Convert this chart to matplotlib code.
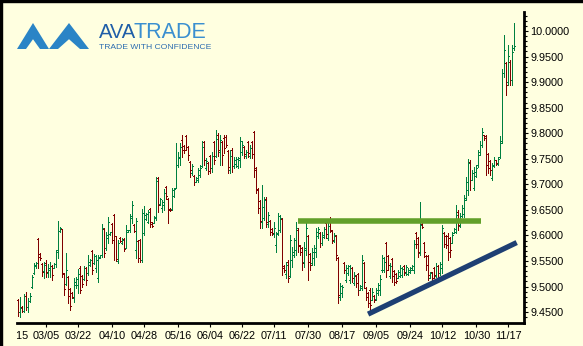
import numpy as np
import matplotlib
matplotlib.use("Agg")
import matplotlib.pyplot as plt
from matplotlib.collections import LineCollection
from matplotlib.patches import Polygon, Rectangle
from matplotlib.transforms import Bbox, TransformedBbox

# daily OHLC bars (oldest first)
opens = [
    9.474, 9.450, 9.460, 9.452, 9.481, 9.460, 9.472, 9.499, 9.526, 9.540,
    9.593, 9.564, 9.544, 9.530, 9.546, 9.526, 9.532, 9.540, 9.536, 9.544,
    9.572, 9.609, 9.613, 9.526, 9.505, 9.518, 9.495, 9.487, 9.477, 9.503,
    9.503, 9.536, 9.520, 9.515, 9.536, 9.526, 9.542, 9.570, 9.546, 9.536,
    9.516, 9.556, 9.562, 9.613, 9.576, 9.595, 9.603, 9.623, 9.640, 9.599,
    9.550, 9.595, 9.585, 9.593, 9.576, 9.607, 9.611, 9.634, 9.621, 9.572,
    9.589, 9.591, 9.552, 9.605, 9.633, 9.627, 9.652, 9.627, 9.625, 9.634,
    9.712, 9.662, 9.654, 9.660, 9.695, 9.672, 9.652, 9.652, 9.677, 9.693,
    9.738, 9.752, 9.787, 9.775, 9.795, 9.773, 9.744, 9.722, 9.716, 9.705,
    9.709, 9.718, 9.736, 9.783, 9.732, 9.742, 9.755, 9.732, 9.783, 9.755,
    9.797, 9.763, 9.783, 9.791, 9.793, 9.765, 9.728, 9.767, 9.736, 9.740,
    9.736, 9.748, 9.763, 9.773, 9.755, 9.783, 9.755, 9.783, 9.802, 9.732,
    9.691, 9.668, 9.627, 9.634, 9.672, 9.623, 9.629, 9.613, 9.603, 9.581,
    9.603, 9.611, 9.633, 9.540, 9.524, 9.548, 9.520, 9.552, 9.562, 9.572,
    9.611, 9.579, 9.575, 9.548, 9.572, 9.599, 9.564, 9.546, 9.556, 9.568,
    9.599, 9.605, 9.585, 9.597, 9.625, 9.595, 9.633, 9.609, 9.589, 9.599,
    9.556, 9.479, 9.487, 9.546, 9.513, 9.526, 9.513, 9.536, 9.507, 9.520,
    9.524, 9.493, 9.497, 9.546, 9.497, 9.487, 9.493, 9.474, 9.481, 9.476,
    9.487, 9.493, 9.532, 9.532, 9.585, 9.560, 9.520, 9.554, 9.530, 9.524,
    9.516, 9.520, 9.522, 9.540, 9.526, 9.524, 9.528, 9.532, 9.532, 9.605,
    9.595, 9.566, 9.623, 9.585, 9.560, 9.560, 9.516, 9.528, 9.536, 9.520,
    9.540, 9.526, 9.536, 9.605, 9.599, 9.599, 9.595, 9.585, 9.605, 9.607,
    9.646, 9.619, 9.638, 9.642, 9.674, 9.689, 9.744, 9.709, 9.693, 9.716,
    9.738, 9.763, 9.777, 9.797, 9.795, 9.759, 9.746, 9.712, 9.738, 9.748,
    9.740, 9.754, 9.785, 9.918, 9.937, 9.900, 9.939, 9.904, 9.967,
]
highs = [
    9.476, 9.479, 9.462, 9.485, 9.489, 9.477, 9.487, 9.522, 9.546, 9.548,
    9.595, 9.566, 9.546, 9.548, 9.552, 9.544, 9.548, 9.542, 9.546, 9.572,
    9.629, 9.617, 9.613, 9.526, 9.566, 9.520, 9.497, 9.489, 9.516, 9.518,
    9.534, 9.540, 9.522, 9.540, 9.538, 9.562, 9.554, 9.572, 9.564, 9.562,
    9.562, 9.562, 9.623, 9.615, 9.607, 9.636, 9.607, 9.625, 9.642, 9.599,
    9.591, 9.597, 9.595, 9.595, 9.621, 9.611, 9.642, 9.668, 9.623, 9.634,
    9.591, 9.593, 9.652, 9.658, 9.644, 9.650, 9.654, 9.627, 9.638, 9.714,
    9.714, 9.674, 9.670, 9.691, 9.697, 9.674, 9.654, 9.693, 9.693, 9.781,
    9.763, 9.781, 9.797, 9.777, 9.797, 9.775, 9.746, 9.740, 9.718, 9.714,
    9.732, 9.738, 9.785, 9.785, 9.752, 9.744, 9.757, 9.763, 9.785, 9.806,
    9.800, 9.797, 9.785, 9.797, 9.797, 9.767, 9.767, 9.771, 9.754, 9.754,
    9.754, 9.793, 9.785, 9.775, 9.767, 9.785, 9.777, 9.785, 9.804, 9.734,
    9.693, 9.670, 9.699, 9.675, 9.675, 9.646, 9.631, 9.615, 9.627, 9.607,
    9.644, 9.640, 9.634, 9.542, 9.548, 9.552, 9.601, 9.577, 9.595, 9.627,
    9.615, 9.581, 9.577, 9.587, 9.625, 9.601, 9.566, 9.575, 9.581, 9.615,
    9.617, 9.607, 9.607, 9.617, 9.627, 9.625, 9.636, 9.611, 9.605, 9.601,
    9.558, 9.507, 9.503, 9.548, 9.542, 9.542, 9.542, 9.538, 9.528, 9.522,
    9.526, 9.503, 9.562, 9.548, 9.499, 9.489, 9.497, 9.497, 9.483, 9.497,
    9.507, 9.522, 9.562, 9.558, 9.587, 9.562, 9.546, 9.556, 9.532, 9.526,
    9.532, 9.542, 9.538, 9.542, 9.542, 9.536, 9.538, 9.542, 9.591, 9.607,
    9.597, 9.666, 9.625, 9.587, 9.562, 9.562, 9.528, 9.528, 9.538, 9.546,
    9.542, 9.548, 9.621, 9.607, 9.601, 9.605, 9.597, 9.607, 9.615, 9.660,
    9.650, 9.644, 9.660, 9.679, 9.714, 9.750, 9.748, 9.728, 9.734, 9.738,
    9.767, 9.785, 9.810, 9.797, 9.797, 9.761, 9.748, 9.742, 9.754, 9.748,
    9.754, 9.795, 9.926, 9.992, 9.939, 9.973, 9.943, 9.973, 10.016,
]
lows = [
    9.442, 9.440, 9.450, 9.450, 9.454, 9.450, 9.470, 9.497, 9.524, 9.536,
    9.536, 9.552, 9.520, 9.516, 9.518, 9.518, 9.518, 9.513, 9.536, 9.538,
    9.556, 9.607, 9.518, 9.483, 9.503, 9.468, 9.454, 9.477, 9.470, 9.497,
    9.487, 9.487, 9.499, 9.513, 9.503, 9.522, 9.540, 9.524, 9.544, 9.528,
    9.509, 9.556, 9.558, 9.558, 9.572, 9.585, 9.601, 9.585, 9.552, 9.550,
    9.546, 9.587, 9.583, 9.570, 9.576, 9.607, 9.607, 9.625, 9.607, 9.556,
    9.548, 9.548, 9.548, 9.601, 9.631, 9.625, 9.617, 9.617, 9.625, 9.631,
    9.646, 9.660, 9.646, 9.650, 9.672, 9.625, 9.648, 9.650, 9.675, 9.693,
    9.734, 9.738, 9.754, 9.761, 9.767, 9.748, 9.714, 9.718, 9.699, 9.705,
    9.705, 9.714, 9.734, 9.738, 9.728, 9.720, 9.722, 9.724, 9.740, 9.754,
    9.755, 9.738, 9.738, 9.761, 9.773, 9.722, 9.722, 9.724, 9.732, 9.734,
    9.732, 9.734, 9.757, 9.752, 9.752, 9.754, 9.752, 9.752, 9.714, 9.683,
    9.644, 9.615, 9.615, 9.631, 9.617, 9.617, 9.601, 9.601, 9.597, 9.568,
    9.601, 9.607, 9.522, 9.528, 9.516, 9.509, 9.518, 9.538, 9.558, 9.562,
    9.568, 9.562, 9.532, 9.538, 9.562, 9.513, 9.532, 9.542, 9.542, 9.558,
    9.595, 9.577, 9.581, 9.595, 9.595, 9.591, 9.607, 9.585, 9.587, 9.552,
    9.468, 9.474, 9.479, 9.526, 9.509, 9.522, 9.507, 9.509, 9.503, 9.499,
    9.483, 9.493, 9.493, 9.497, 9.474, 9.460, 9.448, 9.474, 9.470, 9.474,
    9.483, 9.483, 9.528, 9.528, 9.518, 9.532, 9.516, 9.509, 9.503, 9.507,
    9.516, 9.518, 9.518, 9.522, 9.522, 9.522, 9.526, 9.532, 9.526, 9.575,
    9.558, 9.562, 9.615, 9.558, 9.532, 9.513, 9.516, 9.513, 9.516, 9.518,
    9.516, 9.522, 9.526, 9.577, 9.575, 9.552, 9.558, 9.585, 9.605, 9.605,
    9.611, 9.617, 9.636, 9.636, 9.670, 9.679, 9.689, 9.709, 9.689, 9.714,
    9.734, 9.757, 9.773, 9.787, 9.718, 9.722, 9.718, 9.709, 9.734, 9.738,
    9.738, 9.752, 9.781, 9.910, 9.875, 9.894, 9.894, 9.894, 9.963,
]
closes = [
    9.450, 9.458, 9.452, 9.481, 9.460, 9.472, 9.481, 9.518, 9.542, 9.546,
    9.558, 9.556, 9.528, 9.542, 9.528, 9.536, 9.540, 9.522, 9.544, 9.568,
    9.609, 9.615, 9.524, 9.495, 9.532, 9.481, 9.462, 9.479, 9.509, 9.515,
    9.524, 9.493, 9.505, 9.536, 9.513, 9.548, 9.552, 9.532, 9.560, 9.552,
    9.558, 9.562, 9.615, 9.566, 9.601, 9.627, 9.607, 9.591, 9.599, 9.554,
    9.585, 9.589, 9.591, 9.574, 9.611, 9.611, 9.638, 9.660, 9.609, 9.629,
    9.556, 9.552, 9.644, 9.640, 9.642, 9.646, 9.623, 9.619, 9.636, 9.707,
    9.660, 9.672, 9.666, 9.683, 9.677, 9.650, 9.650, 9.689, 9.691, 9.738,
    9.754, 9.773, 9.767, 9.767, 9.773, 9.757, 9.728, 9.736, 9.705, 9.712,
    9.728, 9.732, 9.773, 9.748, 9.746, 9.726, 9.732, 9.755, 9.748, 9.789,
    9.767, 9.787, 9.757, 9.771, 9.777, 9.734, 9.755, 9.736, 9.748, 9.750,
    9.752, 9.785, 9.777, 9.759, 9.763, 9.761, 9.771, 9.759, 9.728, 9.689,
    9.654, 9.629, 9.656, 9.670, 9.627, 9.640, 9.607, 9.605, 9.615, 9.605,
    9.638, 9.634, 9.536, 9.532, 9.542, 9.516, 9.591, 9.568, 9.591, 9.615,
    9.581, 9.568, 9.546, 9.575, 9.615, 9.548, 9.542, 9.568, 9.575, 9.607,
    9.613, 9.585, 9.601, 9.613, 9.603, 9.619, 9.611, 9.591, 9.601, 9.562,
    9.483, 9.501, 9.499, 9.532, 9.536, 9.540, 9.536, 9.516, 9.522, 9.507,
    9.493, 9.501, 9.552, 9.509, 9.479, 9.468, 9.464, 9.489, 9.474, 9.493,
    9.503, 9.515, 9.556, 9.548, 9.532, 9.542, 9.540, 9.520, 9.509, 9.511,
    9.528, 9.536, 9.534, 9.528, 9.538, 9.532, 9.536, 9.540, 9.583, 9.583,
    9.568, 9.621, 9.617, 9.568, 9.542, 9.522, 9.526, 9.516, 9.522, 9.540,
    9.526, 9.544, 9.615, 9.583, 9.581, 9.568, 9.572, 9.601, 9.613, 9.640,
    9.621, 9.638, 9.654, 9.670, 9.705, 9.742, 9.709, 9.722, 9.724, 9.732,
    9.757, 9.777, 9.802, 9.791, 9.738, 9.732, 9.728, 9.736, 9.748, 9.742,
    9.750, 9.781, 9.918, 9.963, 9.894, 9.951, 9.904, 9.959, 9.971,
]

date_labels = ["02/15", "03/05", "03/22", "04/10", "04/28", "05/16", "06/04", "06/22",
               "07/11", "07/30", "08/17", "09/05", "09/24", "10/12", "10/30", "11/17"]
date_pos = [-1.6, 14, 30, 47, 63, 80, 96, 112, 128, 145, 162, 179, 196, 212, 229, 245]

# drawn lines: horizontal resistance and rising support
resist_x = [140, 231.3]
resist_y = [9.629, 9.629]
support_x = [174.9, 249.2]
support_y = [9.446, 9.586]

BG = "#ffffe0"
UP = "#008040"
DOWN = "#800000"
FONT = "Liberation Sans"

W, H = 583, 346
fig = plt.figure(figsize=(W / 100, H / 100), dpi=100, facecolor=BG)
ax = fig.add_axes([17 / W, 23 / H, 507 / W, 311 / H], facecolor=BG)

segs, cols = [], []
for k in range(len(closes)):
    o, h, l, c = opens[k], highs[k], lows[k], closes[k]
    col = UP if c >= o else DOWN
    segs += [[(k, l), (k, h)], [(k - 0.5, o), (k, o)], [(k, c), (k + 0.5, c)]]
    cols += [col] * 3
ax.add_collection(LineCollection(segs, colors=cols, linewidths=0.72, antialiased=False))

ax.plot(resist_x, resist_y, color="#62a02a", lw=4.0, solid_capstyle="butt")
ax.plot(support_x, support_y, color="#1e3f73", lw=3.8, solid_capstyle="butt")

ax.set_xlim(-0.65, 252.85)
ax.set_ylim(9.4286, 10.0372)

for s in ["left", "top"]:
    ax.spines[s].set_visible(False)
for s in ["right", "bottom"]:
    ax.spines[s].set_linewidth(2.0)

ax.yaxis.tick_right()
yt = np.arange(9.45, 10.0001, 0.05)
ax.set_yticks(yt)
ax.set_yticklabels([f"{v:.4f}" for v in yt], fontfamily=FONT, fontsize=7.8)
ax.set_yticks(np.arange(9.44, 10.031, 0.01), minor=True)
ax.tick_params(axis="y", which="major", length=3, width=0.8, pad=1.5, direction="out")
ax.tick_params(axis="y", which="minor", length=1.8, width=0.8, direction="out")

ax.set_xticks([p for p in date_pos if p >= 0])
ax.set_xticklabels([])
ax.tick_params(axis="x", which="major", length=3, width=0.8, direction="out")

# date labels, the first one cut by the left edge of the plot
clip = TransformedBbox(Bbox([[0.0, -0.2], [1.05, 1]]), ax.transAxes)
for lab, p in zip(date_labels, date_pos):
    t = ax.text(p, -0.025, lab, transform=ax.get_xaxis_transform(), ha="center", va="top",
                fontfamily=FONT, fontsize=7.8, clip_on=True)
    t.set_clip_box(clip)

# overlay in pixel coords for frame and logo
ov = fig.add_axes([0, 0, 1, 1], facecolor="none")
ov.set_xlim(0, W)
ov.set_ylim(H, 0)
ov.axis("off")
ov.add_patch(Rectangle((0, 0), W, 2, color="black"))
ov.add_patch(Rectangle((0, 0), 2, H, color="black"))

MARK = "#2a84c6"
def chevron(cx, w, top=23, bot=49, th=9):
    return Polygon([(cx - w, bot), (cx, top), (cx + w, bot), (cx + w - th, bot),
                    (cx, top + 2 * th * 0.9), (cx - w + th, bot)], closed=True, color=MARK, lw=0)
ov.add_patch(chevron(33, 16))
ov.add_patch(chevron(69, 20))

ava = ov.text(99, 38, "AVA", ha="left", va="baseline", fontfamily=FONT, fontsize=14.5,
              color="#1f5ea8")
fig.canvas.draw()
bb = ava.get_window_extent()
x_end = 99 + bb.width - 2.5
ov.text(x_end, 38, "TRADE", ha="left", va="baseline", fontfamily=FONT, fontsize=15.5,
        color="#3a8fd0")
ov.text(99, 49, "TRADE WITH CONFIDENCE", ha="left", va="baseline", fontfamily=FONT,
        fontsize=6.1, color="#2b6cb0")

fig.savefig("out.png", dpi=100, facecolor=BG)
